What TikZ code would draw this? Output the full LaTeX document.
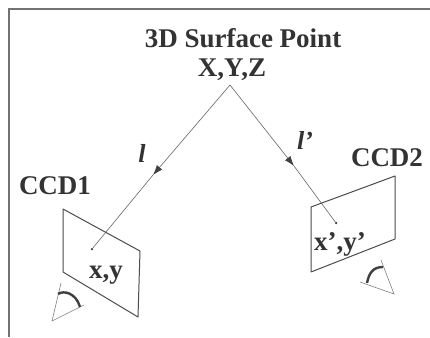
\documentclass[tikz,border=0pt]{standalone}
\usepackage{fontspec}
\setmainfont{Liberation Serif}
\usetikzlibrary{arrows.meta}
\tikzset{
  frameline/.style={draw=black!55,line width=2pt},
  plate/.style={draw=black!70,line width=1pt,line join=round},
  ray/.style={draw=black!60,line width=0.6pt},
  raytip/.style={-{Latex[length=10pt,width=7pt,black!75]}},
  cam/.style={draw=black!50,line width=0.6pt},
  camarc/.style={draw=black!75,line width=2.4pt},
  lab/.style={font=\bfseries\fontsize{27}{28}\selectfont,text=black!80,inner sep=0pt},
  ital/.style={font=\bfseries\itshape\fontsize{26}{26}\selectfont,text=black!80,inner sep=0pt},
  dotmark/.style={circle,fill=black!80,inner sep=0pt,minimum size=2.5pt},
}
\begin{document}
\begin{tikzpicture}[x=1pt,y=-1pt]
\useasboundingbox (0,0) rectangle (430,337);
\fill[white] (0,0) rectangle (430,337);
\coordinate (fa) at (9,337);
\coordinate (fb) at (9,9);
\coordinate (fc) at (430,9);
\draw[frameline] (fa) -- (fb) -- (fc);
\node[lab] (title) at (243,38) {3D Surface Point};
\node[lab] (xyz) at (232,70) {X,Y,Z};
\coordinate (apex) at (230,85);
\node[dotmark] (p1) at (92,249) {};
\node[dotmark] (p2) at (336,223) {};
\coordinate (m1) at (153,175);
\coordinate (m2) at (294,166);
\draw[ray,raytip] (apex) -- (m1);
\draw[ray] (m1) -- (p1);
\draw[ray,raytip] (apex) -- (m2);
\draw[ray] (m2) -- (p2);
\node[ital] (l1) at (142,153) {l};
\node[ital] (l2) at (305,140) {l’};
\node[lab] (c1) at (55,186) {CCD1};
\node[lab] (c2) at (387,158) {CCD2};
\draw[plate] (63,209) -- (140,251) -- (138,317) -- (63,272) -- cycle;
\draw[plate] (311,207) -- (395,176) -- (395,239) -- (311,272) -- cycle;
\node[lab] (t1) at (106,275) {x,y};
\node[lab] (t2) at (340,244) {x’,y’};
\draw[cam] (61,283) -- (52,321) -- (84,305);
\draw[camarc] (58,294) .. controls (64,290) and (76,293) .. (80,307);
\draw[cam] (381,260) -- (394,294) -- (360,282);
\draw[camarc] (367,283) .. controls (369,273) and (373,267) .. (383,267);
\end{tikzpicture}
\end{document}
